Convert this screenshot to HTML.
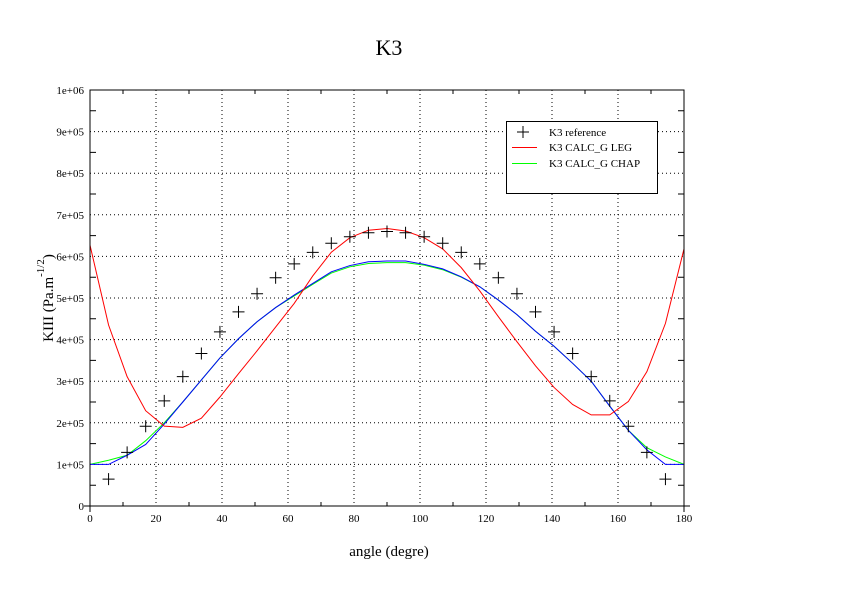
<!DOCTYPE html>
<html><head><meta charset="utf-8"><style>
body{margin:0;background:#fff}
svg{display:block;font-family:"Liberation Serif",serif}
</style></head><body>
<svg id="chart" width="842" height="595" viewBox="0 0 842 595" xmlns="http://www.w3.org/2000/svg">
<rect width="842" height="595" fill="#fff"/>
<text x="389" y="55" font-size="22" text-anchor="middle">K3</text>
<g id="grid"></g>
<g id="series"></g>
<rect x="90" y="90" width="594" height="416" fill="none" stroke="#000" stroke-width="1"/>
<g id="ticks" font-size="11"></g>
<text x="389" y="556" font-size="15" text-anchor="middle">angle (degre)</text>
<text transform="translate(53,298) rotate(-90)" font-size="15" text-anchor="middle">KIII (Pa.m<tspan dy="-9" font-size="11">-1/2</tspan><tspan dy="9">)</tspan></text>
<g>
<rect x="506.5" y="121.5" width="151" height="72" fill="#fff" stroke="#000"/>
<g><rect x="517" y="131.5" width="12" height="1" fill="#000"/><rect x="522.5" y="126" width="1" height="12" fill="#000"/><text x="549" y="136" font-size="11">K3 reference</text></g>
<g><rect x="512" y="147" width="25" height="1" fill="#ff0000"/><text x="549" y="151" font-size="11">K3 CALC_G LEG</text></g>
<g><rect x="512" y="163" width="25" height="1" fill="#00ff00"/><text x="549" y="167" font-size="11">K3 CALC_G CHAP</text></g>
</g>
</svg>
<script>
const angles=[0,5.625,11.25,16.875,22.5,28.125,33.75,39.375,45,50.625,56.25,61.875,67.5,73.125,78.75,84.375,90,95.625,101.25,106.875,112.5,118.125,123.75,129.375,135,140.625,146.25,151.875,157.5,163.125,168.75,174.375,180];
const refValues=[0,64690,128760,191600,252570,311130,366680,418710,466690,510180,548760,582080,609760,631600,647340,656840,660000,656840,647340,631600,609760,582080,548760,510180,466690,418710,366680,311130,252570,191600,128760,64690,0];
const legValues=[627000,435000,311000,229000,192000,189000,211000,262000,318000,373000,430000,487000,553000,610000,645000,663000,667000,661000,645000,618000,573000,517000,455000,395000,337000,285000,244000,219000,219000,251000,323000,439000,618000];
const chapValues=[100000,110000,122000,157000,200000,250000,303000,356000,402000,443000,477000,505000,533000,560000,575000,583000,585000,585000,579000,568000,550000,527000,495000,460000,420000,384000,343000,300000,240000,182000,140000,118000,100000];
const blueValues=[100000,100000,122000,148000,197000,250000,303000,356000,402000,443000,477000,507000,535000,563000,578000,587000,589000,589000,581000,570000,551000,527000,495000,460000,420000,384000,343000,300000,240000,182000,135000,100000,100000];
const xTicks=[0,20,40,60,80,100,120,140,160,180];
const yTicks=[0,100000,200000,300000,400000,500000,600000,700000,800000,900000,1000000];
const yTickLabels=["0","1e+05","2e+05","3e+05","4e+05","5e+05","6e+05","7e+05","8e+05","9e+05","1e+06"];
const NS="http://www.w3.org/2000/svg";
const X=v=>90+v*594/180, Y=v=>506-v*416/1e6;
function mk(tag,attrs,parent){const e=document.createElementNS(NS,tag);for(const k in attrs)e.setAttribute(k,attrs[k]);parent.appendChild(e);return e;}
const grid=document.getElementById('grid'),ticks=document.getElementById('ticks'),series=document.getElementById('series');
xTicks.forEach((t,i)=>{
  if(i>0&&i<xTicks.length-1){const g=mk('line',{x1:X(t),x2:X(t),y1:90,y2:506,stroke:'#000','stroke-dasharray':'1,3'},grid);
  
  }
  const l=mk('text',{x:X(t),y:522,'text-anchor':'middle'},ticks);l.textContent=t;
  
  
  if(i<xTicks.length-1){const m=X(t+10);mk('path',{d:`M${m} 506v-4M${m} 90v4`,stroke:'#000'},ticks);}
});
yTicks.forEach((t,i)=>{
  if(i>0&&i<yTicks.length-1){const g=mk('line',{x1:90,x2:684,y1:Y(t),y2:Y(t),stroke:'#000','stroke-dasharray':'1,3'},grid);
  
  }
  const l=mk('text',{x:84,y:Y(t)+4,'text-anchor':'end'},ticks);l.textContent=yTickLabels[i];
  
  
  if(i<yTicks.length-1){const m=Y(t+50000);mk('path',{d:`M90 ${m}h6M684 ${m}h-6`,stroke:'#000'},ticks);}
});
function line(vals,color,name){
  const p=mk('polyline',{points:vals.map((v,i)=>X(angles[i])+','+Y(v)).join(' '),fill:'none',stroke:color,'stroke-width':1},series);
  
  
}
line(chapValues,'#0f0','chap-line');
line(blueValues,'#00f','blue-line');
line(legValues,'#f00','leg-line');
refValues.forEach((v,i)=>{
  const x=X(angles[i]),y=Y(v);
  const p=mk('path',{d:`M${x-6} ${y}h12M${x} ${y-6}v12`,stroke:'#000'},series);
  
  
});
</script>
</body></html>
